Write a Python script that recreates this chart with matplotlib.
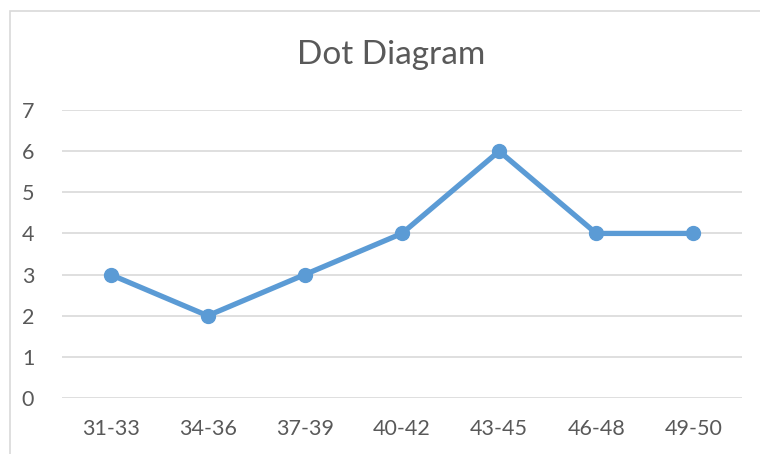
import matplotlib
matplotlib.use('Agg')
import matplotlib.pyplot as plt
from matplotlib.patches import Rectangle

# data
categorias = ['31-33', '34-36', '37-39', '40-42', '43-45', '46-48', '49-50']
valores = [3, 2, 3, 4, 6, 4, 4]

plt.rcParams['font.family'] = ['Lato', 'DejaVu Sans']
cinza = '#595959'

fig = plt.figure(figsize=(7.6, 4.54), dpi=100)
ax = fig.add_axes([62 / 760, 1 - 398 / 454, 680 / 760, 288 / 454])

# borda do grafico (cortada a direita e embaixo)
fig.patches.append(Rectangle((10 / 760, -0.1), 1.2, 1 - 11 / 454 + 0.1,
                             transform=fig.transFigure, fill=False,
                             edgecolor='#d9d9d9', linewidth=1.2))

x = range(len(categorias))
ax.plot(x, valores, color='#5b9bd5', linewidth=3.8, marker='o',
        markersize=10, solid_capstyle='round', solid_joinstyle='round')

ax.set_xlim(-0.5, len(categorias) - 0.5)
ax.set_ylim(0, 7)
ax.set_yticks(range(0, 8))
ax.set_xticks(list(x))
ax.set_xticklabels(categorias)
ax.grid(axis='y', color='#d9d9d9', linewidth=1.2)
ax.set_axisbelow(True)
for s in ax.spines.values():
    s.set_visible(False)
ax.tick_params(axis='both', length=0, labelsize=15.5, colors=cinza)
ax.tick_params(axis='x', pad=15)
ax.tick_params(axis='y', pad=20)

fig.text(391 / 760, 1 - 55 / 454, 'Dot Diagram', ha='center', va='center',
         fontsize=24, color=cinza)

plt.savefig('out.png', dpi=100)
